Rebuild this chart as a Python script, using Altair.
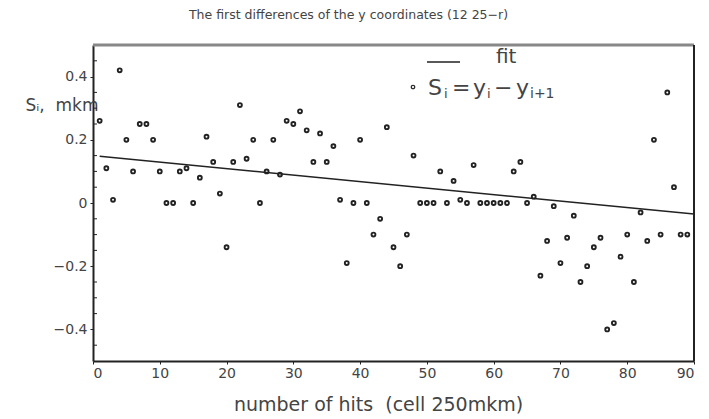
import altair as alt
import pandas as pd

# ---- data ----
hit = list(range(1, 90))
s_val = [0.26, 0.11, 0.01, 0.42, 0.20, 0.10, 0.25, 0.25, 0.20, 0.10,
         0.00, 0.00, 0.10, 0.11, 0.00, 0.08, 0.21, 0.13, 0.03, -0.14,
         0.13, 0.31, 0.14, 0.20, 0.00, 0.10, 0.20, 0.09, 0.26, 0.25,
         0.29, 0.23, 0.13, 0.22, 0.13, 0.18, 0.01, -0.19, 0.00, 0.20,
         0.00, -0.10, -0.05, 0.24, -0.14, -0.20, -0.10, 0.15, 0.00, 0.00,
         0.00, 0.10, 0.00, 0.07, 0.01, 0.00, 0.12, 0.00, 0.00, 0.00,
         0.00, 0.00, 0.10, 0.13, 0.00, 0.02, -0.23, -0.12, -0.01, -0.19,
         -0.11, -0.04, -0.25, -0.20, -0.14, -0.11, -0.40, -0.38, -0.17, -0.10,
         -0.25, -0.03, -0.12, 0.20, -0.10, 0.35, 0.05, -0.10, -0.10]

fit_x = [1, 90]
fit_y = [0.148, -0.035]

x_ticks = [0, 10, 20, 30, 40, 50, 60, 70, 80, 90]
y_ticks = [-0.4, -0.2, 0, 0.2, 0.4]
y_minor = [-0.45, -0.35, -0.3, -0.25, -0.15, -0.1, -0.05,
           0.05, 0.1, 0.15, 0.25, 0.3, 0.35, 0.45]

title_text = "The first differences of the y coordinates (12 25\u2212r)"
x_title = "number of hits\u00a0\u00a0(cell 250mkm)"
y_title = "S\u1d62,\u00a0\u00a0mkm"
legend_fit = "fit"

W, H = 601, 316
FONT = "DejaVu Sans"
INK = "#222222"
TXT = "#444444"

pts = pd.DataFrame({"x": hit, "y": s_val})
fit = pd.DataFrame({"x": fit_x, "y": fit_y})
minor = pd.DataFrame({"y": y_minor})
one = pd.DataFrame({"k": [0]})

xs = alt.Scale(domain=[0, 90], nice=False, zero=False)
ys = alt.Scale(domain=[-0.5, 0.5], nice=False, zero=False)

x_axis = alt.Axis(values=x_ticks, grid=False, domain=True, domainColor=INK,
                  domainWidth=2, tickSize=3,
                  tickColor=INK, labelFontSize=14, labelFont=FONT,
                  labelColor=TXT, labelPadding=2, title=x_title,
                  titleFont=FONT, titleFontSize=19, titleFontWeight="normal",
                  titleColor=TXT, titlePadding=15, titleX=285,
                  titleAlign="center")
y_axis = alt.Axis(values=y_ticks, grid=False, domain=True, domainColor=INK,
                  domainWidth=2, tickSize=3,
                  tickColor=INK, labelFontSize=14, labelFont=FONT,
                  labelColor=TXT, labelPadding=3,
                  labelExpr="datum.value == 0 ? '0' : format(datum.value, '.1f')",
                  title=y_title, titleFont=FONT, titleFontSize=17,
                  titleFontWeight="normal", titleColor=TXT, titleAngle=0,
                  titleAlign="right", titleBaseline="middle", titleX=5,
                  titleY=60)

points = alt.Chart(pts).mark_point(shape="circle", filled=False, size=15,
                                   strokeWidth=1.9, color=INK, opacity=1).encode(
    x=alt.X("x:Q", scale=xs, axis=x_axis),
    y=alt.Y("y:Q", scale=ys, axis=y_axis),
)

fit_line = alt.Chart(fit).mark_line(color=INK, strokeWidth=1.5).encode(
    x=alt.X("x:Q", scale=xs),
    y=alt.Y("y:Q", scale=ys),
)

minor_ticks = alt.Chart(minor).mark_rule(color=INK, strokeWidth=1).encode(
    y=alt.Y("y:Q", scale=ys),
    x=alt.value(0),
    x2=alt.value(4),
)

top_edge = alt.Chart(one).mark_rule(color="#888888", strokeWidth=3).encode(
    x=alt.value(0), x2=alt.value(W), y=alt.value(0)
)
right_edge = alt.Chart(one).mark_rule(color=INK, strokeWidth=2).encode(
    x=alt.value(W), y=alt.value(0), y2=alt.value(H)
)

# legend (drawn inside the plot, top right)
leg_line = alt.Chart(one).mark_rule(color=INK, strokeWidth=1.5).encode(
    x=alt.value(334), x2=alt.value(367), y=alt.value(17)
)
leg_fit = alt.Chart(one).mark_text(text=legend_fit, font=FONT, fontSize=20,
                                   align="left", baseline="alphabetic",
                                   color=TXT).encode(
    x=alt.value(403), y=alt.value(18)
)
leg_pt = alt.Chart(one).mark_point(shape="circle", filled=False, size=12,
                                   strokeWidth=1.2, color=INK, opacity=1).encode(
    x=alt.value(320), y=alt.value(42)
)


def piece(txt, px, size, py):
    return alt.Chart(one).mark_text(text=txt, font=FONT, fontSize=size,
                                    align="left", baseline="alphabetic",
                                    color=TXT).encode(
        x=alt.value(px), y=alt.value(py))


MAIN_Y = 50
SUB_Y = 53
leg_pieces = [
    piece("S", 335, 22, MAIN_Y),
    piece("i", 351, 13, SUB_Y),
    piece("=", 359, 22, MAIN_Y),
    piece("y", 380, 22, MAIN_Y),
    piece("i", 394, 13, SUB_Y),
    piece("\u2212", 401, 22, MAIN_Y),
    piece("y", 423, 22, MAIN_Y),
    piece("i+1", 437, 14, SUB_Y),
]

chart = alt.layer(minor_ticks, top_edge, right_edge, fit_line, points,
                  leg_line, leg_fit, leg_pt, *leg_pieces).properties(
    width=W, height=H,
    background="white",
    title=alt.TitleParams(text=title_text, font=FONT, fontSize=12.5,
                          fontWeight="normal", color=TXT, anchor="middle",
                          offset=22, dx=-45),
    autosize=alt.AutoSizeParams(type="none"),
    padding={"left": 93, "top": 45, "right": 15, "bottom": 58},
).configure_view(stroke=None)

chart.save("out.html", embed_options={"renderer": "svg", "actions": False})
